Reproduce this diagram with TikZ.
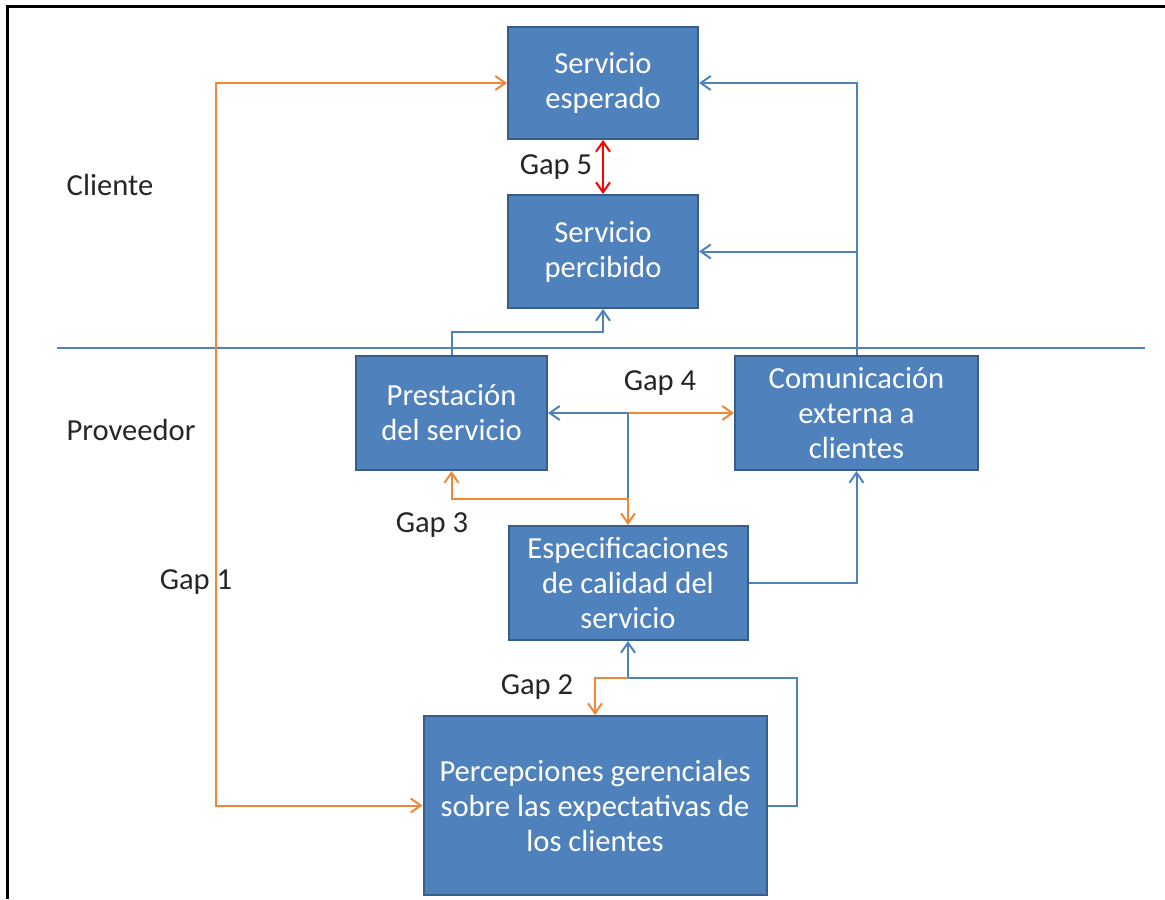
\documentclass[tikz,border=0pt]{standalone}
\usepackage{fontspec}
\setmainfont{Carlito}
\usetikzlibrary{arrows.meta,positioning,calc}
\definecolor{boxblue}{RGB}{79,129,189}
\definecolor{boxedge}{RGB}{56,93,138}
\definecolor{lineblue}{RGB}{79,129,189}
\definecolor{lineorange}{RGB}{240,135,55}
\definecolor{linered}{RGB}{255,0,0}

\begin{document}
\begin{tikzpicture}[x=0.5pt,y=-0.5pt,
    box/.style={draw=boxedge, line width=1pt, fill=boxblue, text=white, align=center,
      font=\fontsize{15.3pt}{17.5pt}\selectfont, inner sep=2pt},
    lbl/.style={font=\fontsize{15.3pt}{17.5pt}\selectfont, text=black!85},
    bline/.style={lineblue, line width=1pt},
    oline/.style={lineorange, line width=1pt},
    rline/.style={linered, line width=1pt},
    >={Straight Barb[length=5pt,width=7pt]}]
    % Page and frame
    \useasboundingbox (0,0) rectangle (1165,899);
    \draw[line width=1.5pt] (7,899) -- (7,7) -- (1165,7);
    % Divider between client and provider
    \draw[bline] (57,348) -- (1145,348);
    % Boxes
    \node[box, minimum width=95pt, minimum height=56pt] (esperado) at (603,83) {Servicio\\esperado};
    \node[box, minimum width=95pt, minimum height=56.5pt] (percibido) at (603,251.5) {Servicio\\percibido};
    \node[box, minimum width=95.5pt, minimum height=57pt] (prestacion) at (451.5,413) {Prestación\\del servicio};
    \node[box, minimum width=121.5pt, minimum height=57pt] (comunicacion) at (856.5,413) {Comunicación\\externa a\\clientes};
    \node[box, minimum width=119.5pt, minimum height=57pt] (especificaciones) at (628,583) {Especificaciones\\de calidad del\\servicio};
    \node[box, minimum width=171.5pt, minimum height=89.5pt] (percepciones) at (595,805.5) {Percepciones gerenciales\\sobre las expectativas de\\los clientes};
    % Side labels
    \node[lbl] (cliente) at (110,185) {Cliente};
    \node[lbl] (proveedor) at (131,430) {Proveedor};
    % Junctions
    \coordinate (g1) at (216,400);
    \coordinate (j4) at (628,413);
    \coordinate (j3) at (628,499);
    \coordinate (j2) at (628,678);
    % Gap 1
    \draw[oline,<->] (esperado.west) -| (g1) |- (percepciones.west);
    \node[lbl] (gap1) at (196,582) {Gap 1};
    % Communication to the client
    \draw[bline,->] (comunicacion.north) |- (esperado.east);
    \draw[bline,->] (comunicacion.north |- percibido.east) -- (percibido.east);
    \draw[bline,->] (prestacion.north) -- ++(0,-23) -| (percibido.south);
    % Gap 5
    \draw[rline,<->] (esperado.south) -- (percibido.north);
    \node[lbl] (gap5) at (556,167) {Gap 5};
    % Gap 4
    \draw[bline,->] (j4) -- (prestacion.east);
    \draw[oline,->] (j4) -- (comunicacion.west);
    \draw[bline] (j4) -- (j3);
    \node[lbl] (gap4) at (660,383) {Gap 4};
    % Gap 3
    \draw[oline,<->] (prestacion.south) |- (j3) -- (especificaciones.north);
    \node[lbl] (gap3) at (432,525) {Gap 3};
    \draw[bline,->] (especificaciones.east) -| (comunicacion.south);
    % Gap 2
    \draw[bline,->] (percepciones.east) -- ++(29,0) |- (j2) -- (especificaciones.south);
    \draw[oline,->] (j2) -| (percepciones.north);
    \node[lbl] (gap2) at (537,687) {Gap 2};
\end{tikzpicture}
\end{document}
